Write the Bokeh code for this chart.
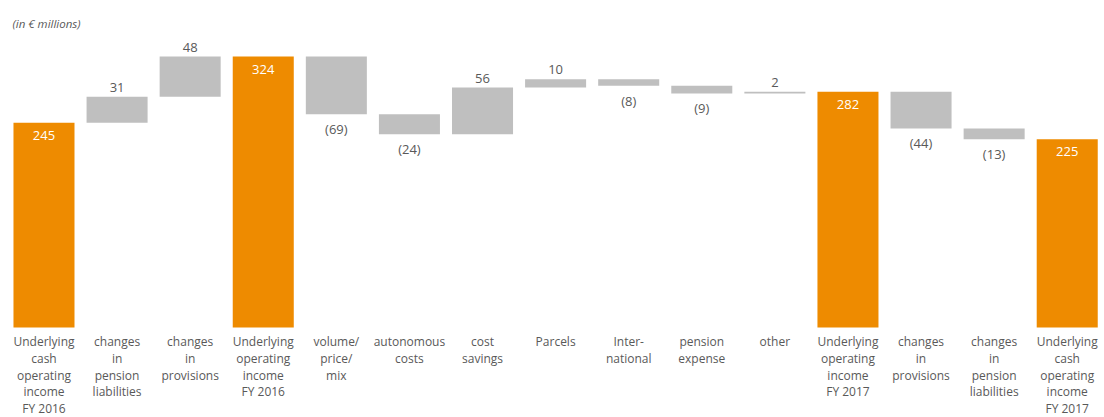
from bokeh.plotting import figure
from bokeh.models import Range1d, ColumnDataSource
from bokeh.core.properties import value
from bokeh.embed import file_html
from bokeh.resources import INLINE

categories = [
    "Underlying\ncash\noperating\nincome\nFY 2016",
    "changes\nin\npension\nliabilities",
    "changes\nin\nprovisions",
    "Underlying\noperating\nincome\nFY 2016",
    "volume/\nprice/\nmix",
    "autonomous\ncosts",
    "cost\nsavings",
    "Parcels",
    "Inter-\nnational",
    "pension\nexpense",
    "other",
    "Underlying\noperating\nincome\nFY 2017",
    "changes\nin\nprovisions",
    "changes\nin\npension\nliabilities",
    "Underlying\ncash\noperating\nincome\nFY 2017",
]
values = [245, 31, 48, 324, -69, -24, 56, 10, -8, -9, 2, 282, -44, -13, 225]
is_total = [True, False, False, True, False, False, False, False, False, False, False, True, False, False, True]

ORANGE = "#EE8B00"
GREY = "#BFBFBF"
TEXT = "#595959"

xs = list(range(len(values)))
bottoms, tops = [], []
running = 0
for v, t in zip(values, is_total):
    if t:
        bottoms.append(0)
        tops.append(v)
        running = v
    else:
        lo, hi = sorted([running, running + v])
        bottoms.append(lo)
        tops.append(hi)
        running += v

w = 0.835
src = ColumnDataSource(dict(
    left=[x - w / 2 for x in xs], right=[x + w / 2 for x in xs],
    bottom=bottoms, top=tops,
    color=[ORANGE if t else GREY for t in is_total],
))

p = figure(width=1104, height=417, output_backend="svg", toolbar_location=None,
           x_range=Range1d(-0.595, 14.51), y_range=Range1d(-107.7, 391.1),
           min_border=0)
p.axis.visible = False
p.grid.visible = False
p.outline_line_color = None
p.background_fill_color = "white"

p.quad(left="left", right="right", bottom="bottom", top="top", fill_color="color",
       line_color=None, source=src)

# total labels (white, inside top)
tx = [x for x, t in zip(xs, is_total) if t]
ty = [tp for tp, t in zip(tops, is_total) if t]
tt = [str(v) for v, t in zip(values, is_total) if t]
p.text(x=tx, y=ty, text=tt, text_color="white", text_font=value("Open Sans"),
       text_font_size="13px", text_align="center", text_baseline="top", y_offset=8)

# positive deltas: above
px_ = [x for x, v, t in zip(xs, values, is_total) if not t and v > 0]
py_ = [tp for tp, v, t in zip(tops, values, is_total) if not t and v > 0]
pt_ = [str(v) for v, t in zip(values, is_total) if not t and v > 0]
p.text(x=px_, y=py_, text=pt_, text_color=TEXT, text_font=value("Open Sans"),
       text_font_size="13px", text_align="center", text_baseline="bottom", y_offset=-5)

# negative deltas: below
nx_ = [x for x, v, t in zip(xs, values, is_total) if not t and v < 0]
ny_ = [b for b, v, t in zip(bottoms, values, is_total) if not t and v < 0]
nt_ = ["(%d)" % -v for v, t in zip(values, is_total) if not t and v < 0]
p.text(x=nx_, y=ny_, text=nt_, text_color=TEXT, text_font=value("Open Sans"),
       text_font_size="13px", text_align="center", text_baseline="top", y_offset=6)

# category labels
p.text(x=xs, y=[0] * len(xs), text=categories, text_color=TEXT,
       text_font=value("Open Sans"), text_font_size="12px", text_align="center",
       text_baseline="top", text_line_height=0.98, y_offset=6)

# unit note
p.text(x=[-0.595], y=[391.1], text=["(in € millions)"], text_color=TEXT,
       text_font=value("Open Sans"), text_font_size="11.5px", text_font_style="italic",
       text_align="left", text_baseline="top", x_offset=12, y_offset=15)

open("out.html", "w").write(file_html(p, INLINE))
